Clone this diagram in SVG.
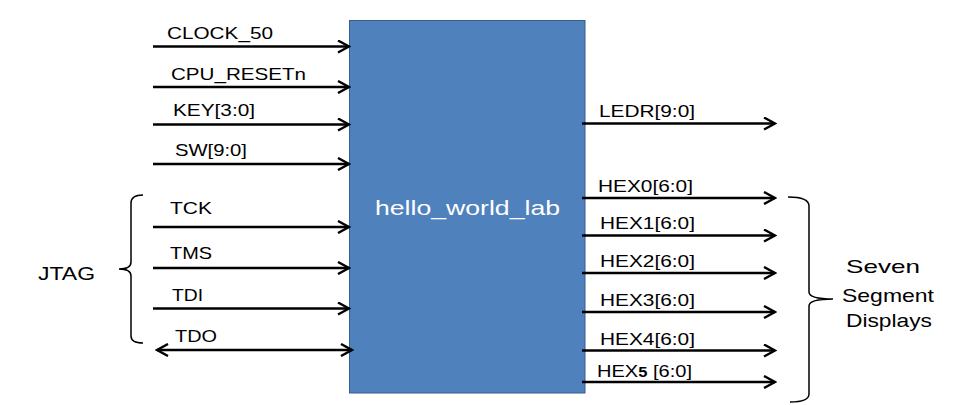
<svg xmlns="http://www.w3.org/2000/svg" width="961" height="405" viewBox="0 0 961 405">
<style>
.t{font-family:"Liberation Sans",Arial,sans-serif;font-size:17px;fill:#000;}
.big{font-family:"Liberation Sans",Arial,sans-serif;font-size:19px;fill:#000;}
.w{stroke:#000;stroke-width:2.6;fill:none;}
.br{stroke:#000;stroke-width:1.5;fill:none;}
</style>
<defs>
<marker id="ah" viewBox="0 0 14 14" refX="12" refY="7" markerWidth="14" markerHeight="14" markerUnits="userSpaceOnUse" orient="auto-start-reverse">
<path d="M1,1 L12,7 L1,13" fill="none" stroke="#000" stroke-width="2.4"/>
</marker>
</defs>
<g id="hello_world_lab">
<rect x="349.5" y="20.5" width="235.5" height="372.5" fill="#4f81bd" stroke="#385d8a" stroke-width="1"/>
<text x="375" y="215" font-family="Liberation Sans, Arial, sans-serif" font-size="21" fill="#fff" textLength="185" lengthAdjust="spacingAndGlyphs">hello_world_lab</text>
</g>
<g id="connectors">
<line class="w" x1="153" y1="46.5" x2="349" y2="46.5" marker-end="url(#ah)"/>
<line class="w" x1="153" y1="87" x2="349" y2="87" marker-end="url(#ah)"/>
<line class="w" x1="153" y1="124.5" x2="349" y2="124.5" marker-end="url(#ah)"/>
<line class="w" x1="153" y1="164" x2="349" y2="164" marker-end="url(#ah)"/>
<line class="w" x1="153" y1="227" x2="349" y2="227" marker-end="url(#ah)"/>
<line class="w" x1="153" y1="268" x2="349" y2="268" marker-end="url(#ah)"/>
<line class="w" x1="153" y1="308.5" x2="349" y2="308.5" marker-end="url(#ah)"/>
<line class="w" x1="157" y1="350" x2="352" y2="350" marker-start="url(#ah)" marker-end="url(#ah)"/>
<line class="w" x1="582" y1="123.5" x2="775" y2="123.5" marker-end="url(#ah)"/>
<line class="w" x1="582" y1="198" x2="775" y2="198" marker-end="url(#ah)"/>
<line class="w" x1="582" y1="235.5" x2="775" y2="235.5" marker-end="url(#ah)"/>
<line class="w" x1="582" y1="273" x2="775" y2="273" marker-end="url(#ah)"/>
<line class="w" x1="582" y1="312" x2="775" y2="312" marker-end="url(#ah)"/>
<line class="w" x1="582" y1="350.5" x2="775" y2="350.5" marker-end="url(#ah)"/>
<line class="w" x1="582" y1="382" x2="775" y2="382" marker-end="url(#ah)"/>
</g>
<g id="input-labels">
<text class="t" x="167" y="39" textLength="106" lengthAdjust="spacingAndGlyphs">CLOCK_50</text>
<text class="t" x="171" y="80" textLength="135" lengthAdjust="spacingAndGlyphs">CPU_RESETn</text>
<text class="t" x="173" y="116" textLength="82" lengthAdjust="spacingAndGlyphs">KEY[3:0]</text>
<text class="t" x="175" y="156" textLength="72" lengthAdjust="spacingAndGlyphs">SW[9:0]</text>
<text class="t" x="170" y="214" textLength="42" lengthAdjust="spacingAndGlyphs">TCK</text>
<text class="t" x="170" y="259" textLength="42" lengthAdjust="spacingAndGlyphs">TMS</text>
<text class="t" x="172" y="301" textLength="31" lengthAdjust="spacingAndGlyphs">TDI</text>
<text class="t" x="175" y="342" textLength="42" lengthAdjust="spacingAndGlyphs">TDO</text>
</g>
<g id="output-labels">
<text class="t" x="599" y="117" textLength="96" lengthAdjust="spacingAndGlyphs">LEDR[9:0]</text>
<text class="t" x="598" y="192" textLength="95" lengthAdjust="spacingAndGlyphs">HEX0[6:0]</text>
<text class="t" x="600" y="229" textLength="95" lengthAdjust="spacingAndGlyphs">HEX1[6:0]</text>
<text class="t" x="600" y="267" textLength="95" lengthAdjust="spacingAndGlyphs">HEX2[6:0]</text>
<text class="t" x="600" y="306" textLength="95" lengthAdjust="spacingAndGlyphs">HEX3[6:0]</text>
<text class="t" x="600" y="345" textLength="95" lengthAdjust="spacingAndGlyphs">HEX4[6:0]</text>
<text class="t" x="597" y="377" textLength="95" lengthAdjust="spacingAndGlyphs">HEX<tspan font-weight="bold" font-size="14">5</tspan> [6:0]</text>
</g>
<g id="jtag">
<path class="br" d="M143,195 Q131,195 131,203 L131,262 Q131,269 119,269 Q131,269 131,276 L131,336 Q131,343 143,343"/>
<text class="big" x="38" y="280" textLength="57" lengthAdjust="spacingAndGlyphs">JTAG</text>
</g>
<g id="seven-segment">
<path class="br" d="M788,197 Q809,197 809,206 L809,292 Q809,299 833,299 Q809,299 809,306 L809,394 Q809,402 790,402"/>
<text class="big" x="846" y="273" textLength="74" lengthAdjust="spacingAndGlyphs">Seven</text>
<text class="big" x="842" y="302" textLength="92" lengthAdjust="spacingAndGlyphs">Segment</text>
<text class="big" x="846" y="327" textLength="86" lengthAdjust="spacingAndGlyphs">Displays</text>
</g>
</svg>
